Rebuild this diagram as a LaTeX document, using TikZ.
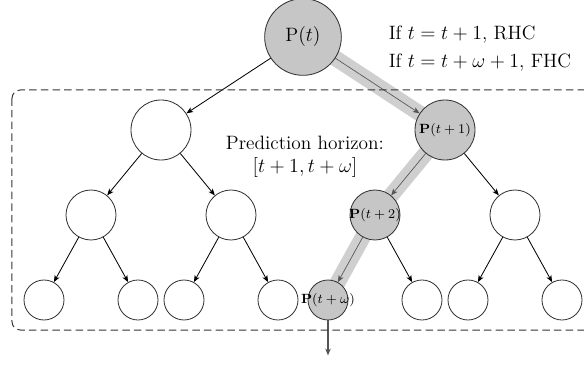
\documentclass[tikz,border=0pt]{standalone}
\usetikzlibrary{positioning, arrows.meta, calc, backgrounds}
\definecolor{nodefill}{HTML}{C6C6C6}
\definecolor{bandcol}{HTML}{CFCFCF}
\definecolor{edgecol}{HTML}{333333}
\definecolor{pathcol}{HTML}{555555}
\newcommand{\plab}[1]{\makebox[0pt]{\fontsize{8}{9}\selectfont$\mathbf{P}(#1)$}}
\tikzset{
    every node/.style={font=\fontsize{11.6}{14}\selectfont},
    tnode/.style={circle, draw=edgecol, line width=0.5pt, inner sep=0pt},
    lvlzero/.style={tnode, minimum size=46pt},
    lvlone/.style={tnode, minimum size=36pt},
    lvltwo/.style={tnode, minimum size=30pt},
    lvlthree/.style={tnode, minimum size=24pt},
    onpath/.style={fill=nodefill},
    arr/.style={-{Stealth[length=4pt, width=3.2pt, inset=1pt]}, black, line width=0.5pt},
    parr/.style={arr, pathcol, line width=0.4pt},
    band/.style={bandcol, line width=9.5pt},
    horizon/.style={draw=edgecol, line width=0.6pt, dash pattern=on 4.5pt off 2.5pt,
        rounded corners=5pt},
    note/.style={align=left},
}

\begin{document}
\begin{tikzpicture}[node distance=50pt, on grid]

\useasboundingbox (-181.8pt,22.2pt) rectangle (168.6pt,-196.8pt);

% ── Tree nodes ─────────────────────────────────────────────────────
\node[lvlzero, onpath] (root) at (0,0) {P$(t)$};

\node[lvlone, below left=55.8pt and 85.2pt of root] (a) {};
\node[lvlone, onpath, below right=55.8pt and 85.2pt of root] (p1) {\plab{t+1}};

\node[lvltwo, below left=51pt and 42pt of a] (aa) {};
\node[lvltwo, below right=51pt and 42pt of a] (ab) {};
\node[lvltwo, onpath, below left=51pt and 42pt of p1] (p2) {\plab{t+2}};
\node[lvltwo, below right=51pt and 42pt of p1] (b) {};

\node[lvlthree, below left=51pt and 28.2pt of aa] (aaa) {};
\node[lvlthree, below right=51pt and 28.2pt of aa] (aab) {};
\node[lvlthree, below left=51pt and 28.2pt of ab] (aba) {};
\node[lvlthree, below right=51pt and 28.2pt of ab] (abb) {};
\node[lvlthree, onpath, below left=51pt and 28.2pt of p2] (pw) {\plab{t+\omega}};
\node[lvlthree, below right=51pt and 28.2pt of p2] (p2r) {};
\node[lvlthree, below left=51pt and 28.2pt of b] (ba) {};
\node[lvlthree, below right=51pt and 28.2pt of b] (bb) {};

\coordinate[below=21pt of pw.south] (next);

% ── Highlighted path (behind the nodes) ───────────────────────────
\begin{scope}[on background layer]
    \draw[band] (root.center) -- (p1.center);
    \draw[band] (p1.center) -- (p2.center);
    \draw[band] (p2.center) -- (pw.center);
\end{scope}

% ── Edges ──────────────────────────────────────────────────────────
\draw[arr] (root) -- (a);
\draw[arr] (a) -- (aa);
\draw[arr] (a) -- (ab);
\draw[arr] (aa) -- (aaa);
\draw[arr] (aa) -- (aab);
\draw[arr] (ab) -- (aba);
\draw[arr] (ab) -- (abb);
\draw[arr] (p1) -- (b);
\draw[arr] (p2) -- (p2r);
\draw[arr] (b) -- (ba);
\draw[arr] (b) -- (bb);

\draw[parr] (root) -- (p1);
\draw[parr] (p1) -- (p2);
\draw[parr] (p2) -- (pw);
\draw[parr, line width=0.8pt] (pw) -- (next);

% ── Horizon box and notes ──────────────────────────────────────────
\draw[horizon] (-174.6pt,-31.8pt) rectangle (177.6pt,-175.8pt);

\node[align=center] (horiz) at (1.2pt,-72pt)
    {Prediction horizon:\\ $[t+1, t+\omega]$};

\node[note, anchor=west] (cases) at (48pt,-7pt)
    {If $t=t+1$, RHC\\[3pt] If $t=t+\omega+1$, FHC};

\end{tikzpicture}
\end{document}
